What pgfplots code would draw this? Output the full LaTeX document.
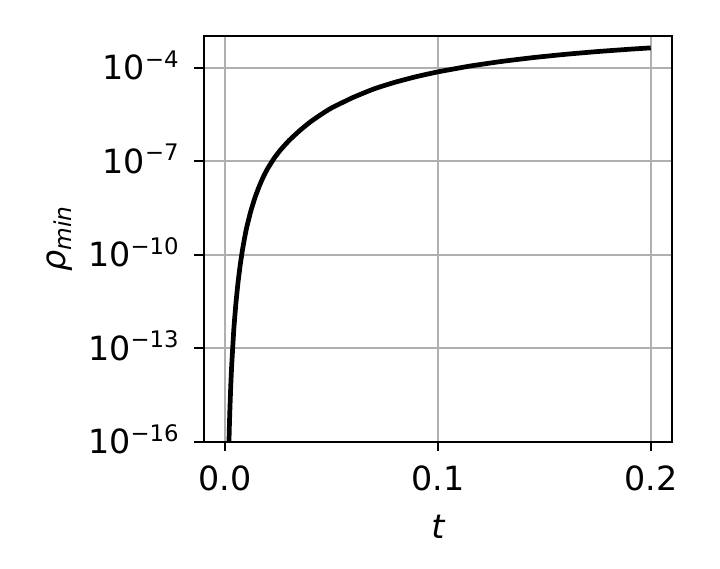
\documentclass[border=0pt]{standalone}
\usepackage{fontspec}
\setmainfont{DejaVu Sans}
\usepackage{pgfplots}
\pgfplotsset{compat=1.18}
\definecolor{gridgray}{HTML}{B0B0B0}
% matplotlib-like exponent
\newcommand\ex[1]{\raisebox{4.6bp}{\fontsize{8.2bp}{9bp}\selectfont #1}}

\begin{document}
\fontsize{12bp}{14.4bp}\selectfont
\begin{tikzpicture}
\begin{axis}[
    scale only axis,
    width=168.48bp,
    height=146.05bp,
    xmin=-0.01, xmax=0.21,
    ymode=log,
    ymin=1e-16, ymax=1.05e-3,
    xtick={0,0.1,0.2},
    xticklabels={0.0,0.1,0.2},
    ytick={1e-16,1e-13,1e-10,1e-7,1e-4},
    yticklabels={10\ex{−16},10\ex{−13},10\ex{−10},10\ex{−7},10\ex{−4}},
    yminorticks=false,
    grid=major,
    major grid style={gridgray, line width=0.8bp},
    axis line style={line width=0.8bp},
    tick align=outside,
    tick pos=left,
    major tick length=3.5bp,
    every tick/.style={black, line width=0.8bp},
    yticklabel style={anchor=base east, inner sep=0pt, yshift=-4.37bp, xshift=-5.4bp},
    xticklabel style={anchor=base, inner sep=0pt, yshift=-14.14bp},
    xlabel={\itshape t},
    xlabel style={at={(axis description cs:0.5,-0.2381)}, anchor=base, inner sep=0pt},
    ylabel={\itshape ρ\raisebox{-2bp}{\fontsize{8.4bp}{9bp}\selectfont min}},
    ylabel style={at={(axis description cs:-0.3077,0.5)}, anchor=center, inner sep=0pt},
    clip=true,
]
\addplot[black, line width=1.7bp, smooth, tension=0.3] coordinates {
    (0.0012, 1.905e-18)
    (0.0015, 2.239e-17)
    (0.0020, 4.677e-16)
    (0.0025, 4.467e-15)
    (0.0030, 2.630e-14)
    (0.0040, 3.890e-13)
    (0.0050, 2.754e-12)
    (0.0060, 1.288e-11)
    (0.0070, 4.571e-11)
    (0.0080, 1.318e-10)
    (0.0090, 3.236e-10)
    (0.010, 7.161e-10)
    (0.012, 2.512e-9)
    (0.014, 6.918e-9)
    (0.016, 1.603e-8)
    (0.018, 3.281e-8)
    (0.020, 5.957e-8)
    (0.023, 1.259e-7)
    (0.026, 2.328e-7)
    (0.030, 4.656e-7)
    (0.035, 9.683e-7)
    (0.040, 1.841e-6)
    (0.045, 3.170e-6)
    (0.050, 5.176e-6)
    (0.060, 1.114e-5)
    (0.070, 2.118e-5)
    (0.080, 3.475e-5)
    (0.090, 5.248e-5)
    (0.100, 7.413e-5)
    (0.115, 1.138e-4)
    (0.130, 1.607e-4)
    (0.145, 2.138e-4)
    (0.160, 2.716e-4)
    (0.175, 3.327e-4)
    (0.190, 3.949e-4)
    (0.200, 4.365e-4)
};
\coordinate (SW) at (rel axis cs:0,0);
\coordinate (NE) at (rel axis cs:1,1);
\end{axis}
\pgfresetboundingbox
\path ([shift={(-73.44bp,-45.83bp)}]SW) rectangle ([shift={(17.28bp,12.96bp)}]NE);
\end{tikzpicture}
\end{document}
